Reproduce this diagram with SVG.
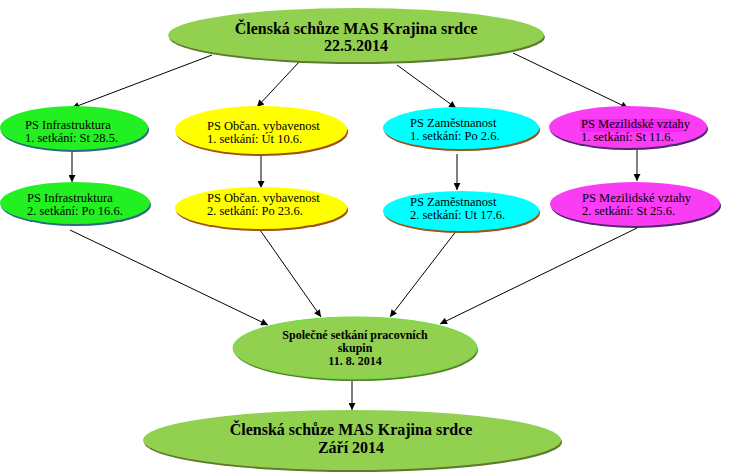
<svg xmlns="http://www.w3.org/2000/svg" width="729" height="476" viewBox="0 0 729 476">
<style>
  .t { font-family: "Liberation Serif", "Times New Roman", serif; fill: #000; }
  .n { font-size: 12.5px; }
  .b { font-weight: bold; }
  .big { font-size: 16px; }
  .mid { font-size: 12px; }
  .c line { stroke: #000; stroke-width: 1; marker-end: url(#ah); }
</style>
<defs>
  <marker id="ah" viewBox="0 0 10 10" refX="10" refY="5" markerWidth="8" markerHeight="7" markerUnits="userSpaceOnUse" orient="auto">
    <path d="M0,0 L10,5 L0,10 z" fill="#000"/>
  </marker>
</defs>
<rect width="729" height="476" fill="#fff"/>
<g class="c">
  <line x1="212" y1="55" x2="72" y2="108"/>
  <line x1="300" y1="61" x2="257" y2="107"/>
  <line x1="397" y1="65" x2="456" y2="108"/>
  <line x1="513" y1="53" x2="628" y2="108"/>
  <line x1="72" y1="150" x2="72" y2="182"/>
  <line x1="261" y1="155" x2="261" y2="188"/>
  <line x1="457" y1="154" x2="457" y2="190"/>
  <line x1="637" y1="150" x2="637" y2="181"/>
  <line x1="70" y1="230" x2="268" y2="325"/>
  <line x1="260" y1="230" x2="321" y2="317"/>
  <line x1="457" y1="230" x2="390" y2="317"/>
  <line x1="637" y1="228" x2="440" y2="324"/>
  <line x1="352" y1="380" x2="352" y2="410"/>
</g>
<g id="top">
  <ellipse cx="357" cy="37" rx="188" ry="27" fill="#5e7a2e"/>
  <ellipse cx="356" cy="35" rx="188" ry="27" fill="#92d050"/>
  <text class="t b big" x="356" y="34" text-anchor="middle">Členská schůze MAS Krajina srdce</text>
  <text class="t b big" x="356" y="51" text-anchor="middle">22.5.2014</text>
</g>
<g id="inf1">
  <ellipse cx="75" cy="130" rx="74" ry="22" fill="#2a6a80"/>
  <ellipse cx="74" cy="128" rx="74" ry="22" fill="#22f022"/>
  <text class="t n" x="25" y="129">PS Infrastruktura</text>
  <text class="t n" x="25" y="142">1.  setkání: St 28.5.</text>
</g>
<g id="inf2">
  <ellipse cx="76" cy="205" rx="75" ry="21" fill="#2a6a80"/>
  <ellipse cx="75" cy="203" rx="75" ry="21" fill="#22f022"/>
  <text class="t n" x="27" y="202">PS Infrastruktura</text>
  <text class="t n" x="27" y="215">2. setkání: Po 16.6.</text>
</g>
<g id="obc1">
  <ellipse cx="262" cy="132" rx="86" ry="24" fill="#a0501a"/>
  <ellipse cx="261" cy="130" rx="86" ry="24" fill="#ffff00"/>
  <text class="t n" x="207" y="130">PS Občan. vybavenost</text>
  <text class="t n" x="207" y="143">1.  setkání: Út 10.6.</text>
</g>
<g id="obc2">
  <ellipse cx="262" cy="210" rx="86" ry="21" fill="#a0501a"/>
  <ellipse cx="261" cy="208" rx="86" ry="21" fill="#ffff00"/>
  <text class="t n" x="207" y="202">PS Občan. vybavenost</text>
  <text class="t n" x="207" y="215">2. setkání: Po 23.6.</text>
</g>
<g id="zam1">
  <ellipse cx="462" cy="130" rx="78" ry="21" fill="#a0501a"/>
  <ellipse cx="461" cy="128" rx="78" ry="21" fill="#00ffff"/>
  <text class="t n" x="410" y="127">PS Zaměstnanost</text>
  <text class="t n" x="410" y="140">1.  setkání: Po 2.6.</text>
</g>
<g id="zam2">
  <ellipse cx="462" cy="213" rx="78" ry="20" fill="#a0501a"/>
  <ellipse cx="461" cy="211" rx="78" ry="20" fill="#00ffff"/>
  <text class="t n" x="410" y="206">PS Zaměstnanost</text>
  <text class="t n" x="410" y="219">2. setkání: Ut 17.6.</text>
</g>
<g id="mez1">
  <ellipse cx="629" cy="129" rx="79" ry="21" fill="#4a2a6a"/>
  <ellipse cx="628" cy="127" rx="79" ry="21" fill="#fa3cf5"/>
  <rect x="580" y="119" width="103" height="13" fill="#f028f0"/>
  <text class="t n" x="581" y="128">PS Mezilidské vztahy</text>
  <text class="t n" x="581" y="141">1.  setkání: St 11.6.</text>
</g>
<g id="mez2">
  <ellipse cx="636" cy="206" rx="85" ry="22" fill="#4a2a6a"/>
  <ellipse cx="635" cy="204" rx="85" ry="22" fill="#fa3cf5"/>
  <text class="t n" x="582" y="202">PS Mezilidské vztahy</text>
  <text class="t n" x="582" y="215">2. setkání: St 25.6.</text>
</g>
<g id="spol">
  <ellipse cx="356" cy="350" rx="122" ry="31" fill="#5e7a2e"/>
  <ellipse cx="355" cy="348" rx="122" ry="31" fill="#92d050" stroke="#66e040" stroke-width="1"/>
  <text class="t b mid" x="355" y="339" text-anchor="middle">Společné setkání pracovních</text>
  <text class="t b mid" x="355" y="352" text-anchor="middle">skupin</text>
  <text class="t b mid" x="355" y="365" text-anchor="middle">11. 8. 2014</text>
</g>
<g id="bottom">
  <ellipse cx="353" cy="442" rx="209" ry="30" fill="#5e7a2e"/>
  <ellipse cx="352" cy="440" rx="209" ry="30" fill="#92d050"/>
  <text class="t b big" x="351" y="435" text-anchor="middle">Členská schůze MAS Krajina srdce</text>
  <text class="t b big" x="351" y="453" text-anchor="middle">Září 2014</text>
</g>
</svg>
